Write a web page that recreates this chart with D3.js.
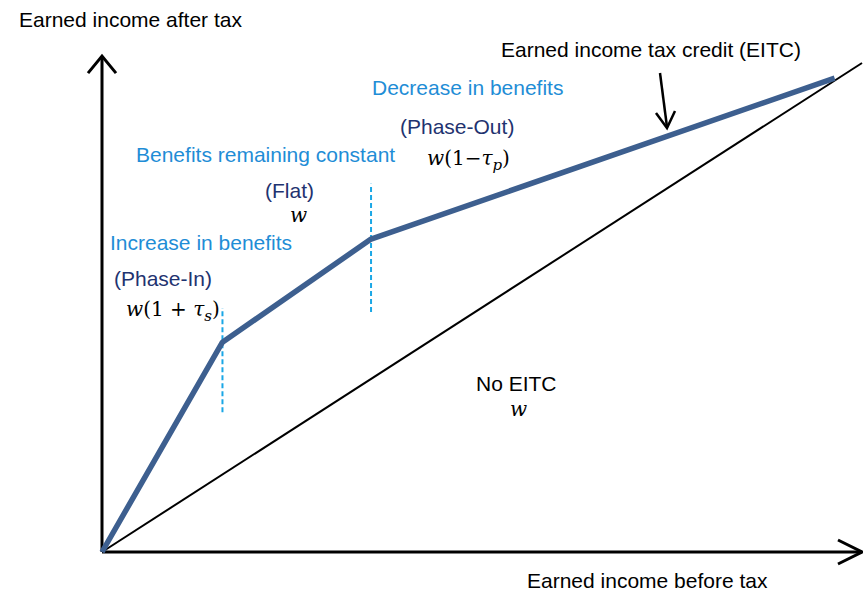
<!DOCTYPE html>
<html>
<head>
<meta charset="utf-8">
<script src="https://cdn.jsdelivr.net/npm/d3@7"></script>
<style>
  body { margin: 0; background: #fff; }
  text { font-family: "Liberation Sans", Arial, sans-serif; }
  .math { font-family: "DejaVu Serif", "Liberation Serif", serif; }
</style>
</head>
<body>
<svg id="chart"></svg>
<script>
(function () {
var width = 863, height = 592

// data, in income units (0..100 on each axis)
var noEitc = [[0, 0], [100, 100]]                      // after tax = before tax
var eitc = [[0, 0], [15.85, 42.9], [35.4, 64.0], [96.4, 96.9]]  // phase-in, flat, phase-out
var phaseBreaks = [
    {x: 15.85, y0: 28.6, y1: 49.9},
    {x: 35.4, y0: 49.1, y1: 75.3}
]
var axisMax = {x: 100, y: 101.4}

var blue = '#3d5f8f'
var cyan = '#1aa7e6'
var lightBlue = '#1f8dd6'
var navy = '#1f3370'

var svg = d3.select('#chart')
            .attr('width', width)
            .attr('height', height)

var x = d3.scaleLinear().domain([0, 100]).range([102, 862])
var y = d3.scaleLinear().domain([0, 100]).range([552, 63])

var line = d3.line().x(d => x(d[0])).y(d => y(d[1]))

// axes with open arrowheads
svg.append('path')
    .attr('d', line([[0, 0], [0, axisMax.y]]))
    .attr('stroke', '#000').attr('stroke-width', 3).attr('fill', 'none')
svg.append('path')
    .attr('d', line([[0, 0], [axisMax.x, 0]]))
    .attr('stroke', '#000').attr('stroke-width', 3).attr('fill', 'none')

var tipY = [x(0), y(axisMax.y)]
svg.append('path')
    .attr('d', 'M' + (tipY[0] - 14) + ',' + (tipY[1] + 17) + 'L' + tipY[0] + ',' + tipY[1] + 'L' + (tipY[0] + 14) + ',' + (tipY[1] + 17))
    .attr('stroke', '#000').attr('stroke-width', 3).attr('fill', 'none')
var tipX = [x(axisMax.x), y(0)]
svg.append('path')
    .attr('d', 'M' + (tipX[0] - 24) + ',' + (tipX[1] - 12) + 'L' + tipX[0] + ',' + tipX[1] + 'L' + (tipX[0] - 24) + ',' + (tipX[1] + 12))
    .attr('stroke', '#000').attr('stroke-width', 3).attr('fill', 'none')

// no EITC diagonal
svg.append('path')
    .attr('d', line(noEitc))
    .attr('stroke', '#000').attr('stroke-width', 2).attr('fill', 'none')

// dashed phase breaks
svg.selectAll('line.brk')
    .data(phaseBreaks)
    .enter().append('line')
    .attr('class', 'brk')
    .attr('x1', d => x(d.x)).attr('x2', d => x(d.x))
    .attr('y1', d => y(d.y0)).attr('y2', d => y(d.y1))
    .attr('stroke', cyan).attr('stroke-width', 2)
    .attr('stroke-dasharray', '5,3')

// EITC schedule
svg.append('path')
    .attr('d', line(eitc))
    .attr('stroke', blue).attr('stroke-width', 5.5)
    .attr('stroke-linejoin', 'round')
    .attr('fill', 'none')

// arrow pointing to the EITC line
svg.append('path')
    .attr('d', 'M660,73L667,127')
    .attr('stroke', '#000').attr('stroke-width', 2.5).attr('fill', 'none')
svg.append('path')
    .attr('d', 'M656,113L667,128L675,111')
    .attr('stroke', '#000').attr('stroke-width', 2.5).attr('fill', 'none')

// plain text labels
var labels = [
    {t: 'Earned income after tax', x: 19, y: 27, c: '#000'},
    {t: 'Earned income before tax', x: 527, y: 588, c: '#000'},
    {t: 'Earned income tax credit (EITC)', x: 501, y: 57, c: '#000'},
    {t: 'Decrease in benefits', x: 372, y: 95, c: lightBlue},
    {t: '(Phase-Out)', x: 400, y: 134, c: navy},
    {t: 'Benefits remaining constant', x: 136, y: 162, c: lightBlue},
    {t: '(Flat)', x: 265, y: 198, c: navy},
    {t: 'Increase in benefits', x: 110, y: 250, c: lightBlue},
    {t: '(Phase-In)', x: 114, y: 286, c: navy},
    {t: 'No EITC', x: 476, y: 391, c: '#000'}
]
svg.selectAll('text.lab')
    .data(labels)
    .enter().append('text')
    .attr('class', 'lab')
    .attr('x', d => d.x).attr('y', d => d.y)
    .attr('fill', d => d.c)
    .style('font-size', '21px')
    .text(d => d.t)

// formulas
function formula(px, py, parts) {
    var t = svg.append('text').attr('class', 'math')
        .attr('x', px).attr('y', py)
        .style('font-size', '20px').attr('fill', '#000')
    parts.forEach(function (p) {
        var s = t.append('tspan').text(p.s)
        if (p.i) s.style('font-style', 'italic')
        if (p.sub) s.attr('dy', 5).style('font-size', '15px')
        if (p.up) s.attr('dy', -5)
    })
}
formula(427, 165, [{s: 'w', i: 1}, {s: '(1\u2212'}, {s: '\u03c4', i: 1}, {s: 'p', i: 1, sub: 1}, {s: ')', up: 1}])
formula(290, 222, [{s: 'w', i: 1}])
formula(126, 316, [{s: 'w', i: 1}, {s: '(1 + '}, {s: '\u03c4', i: 1}, {s: 's', i: 1, sub: 1}, {s: ')', up: 1}])
formula(510, 416, [{s: 'w', i: 1}])
})();
</script>
</body>
</html>
